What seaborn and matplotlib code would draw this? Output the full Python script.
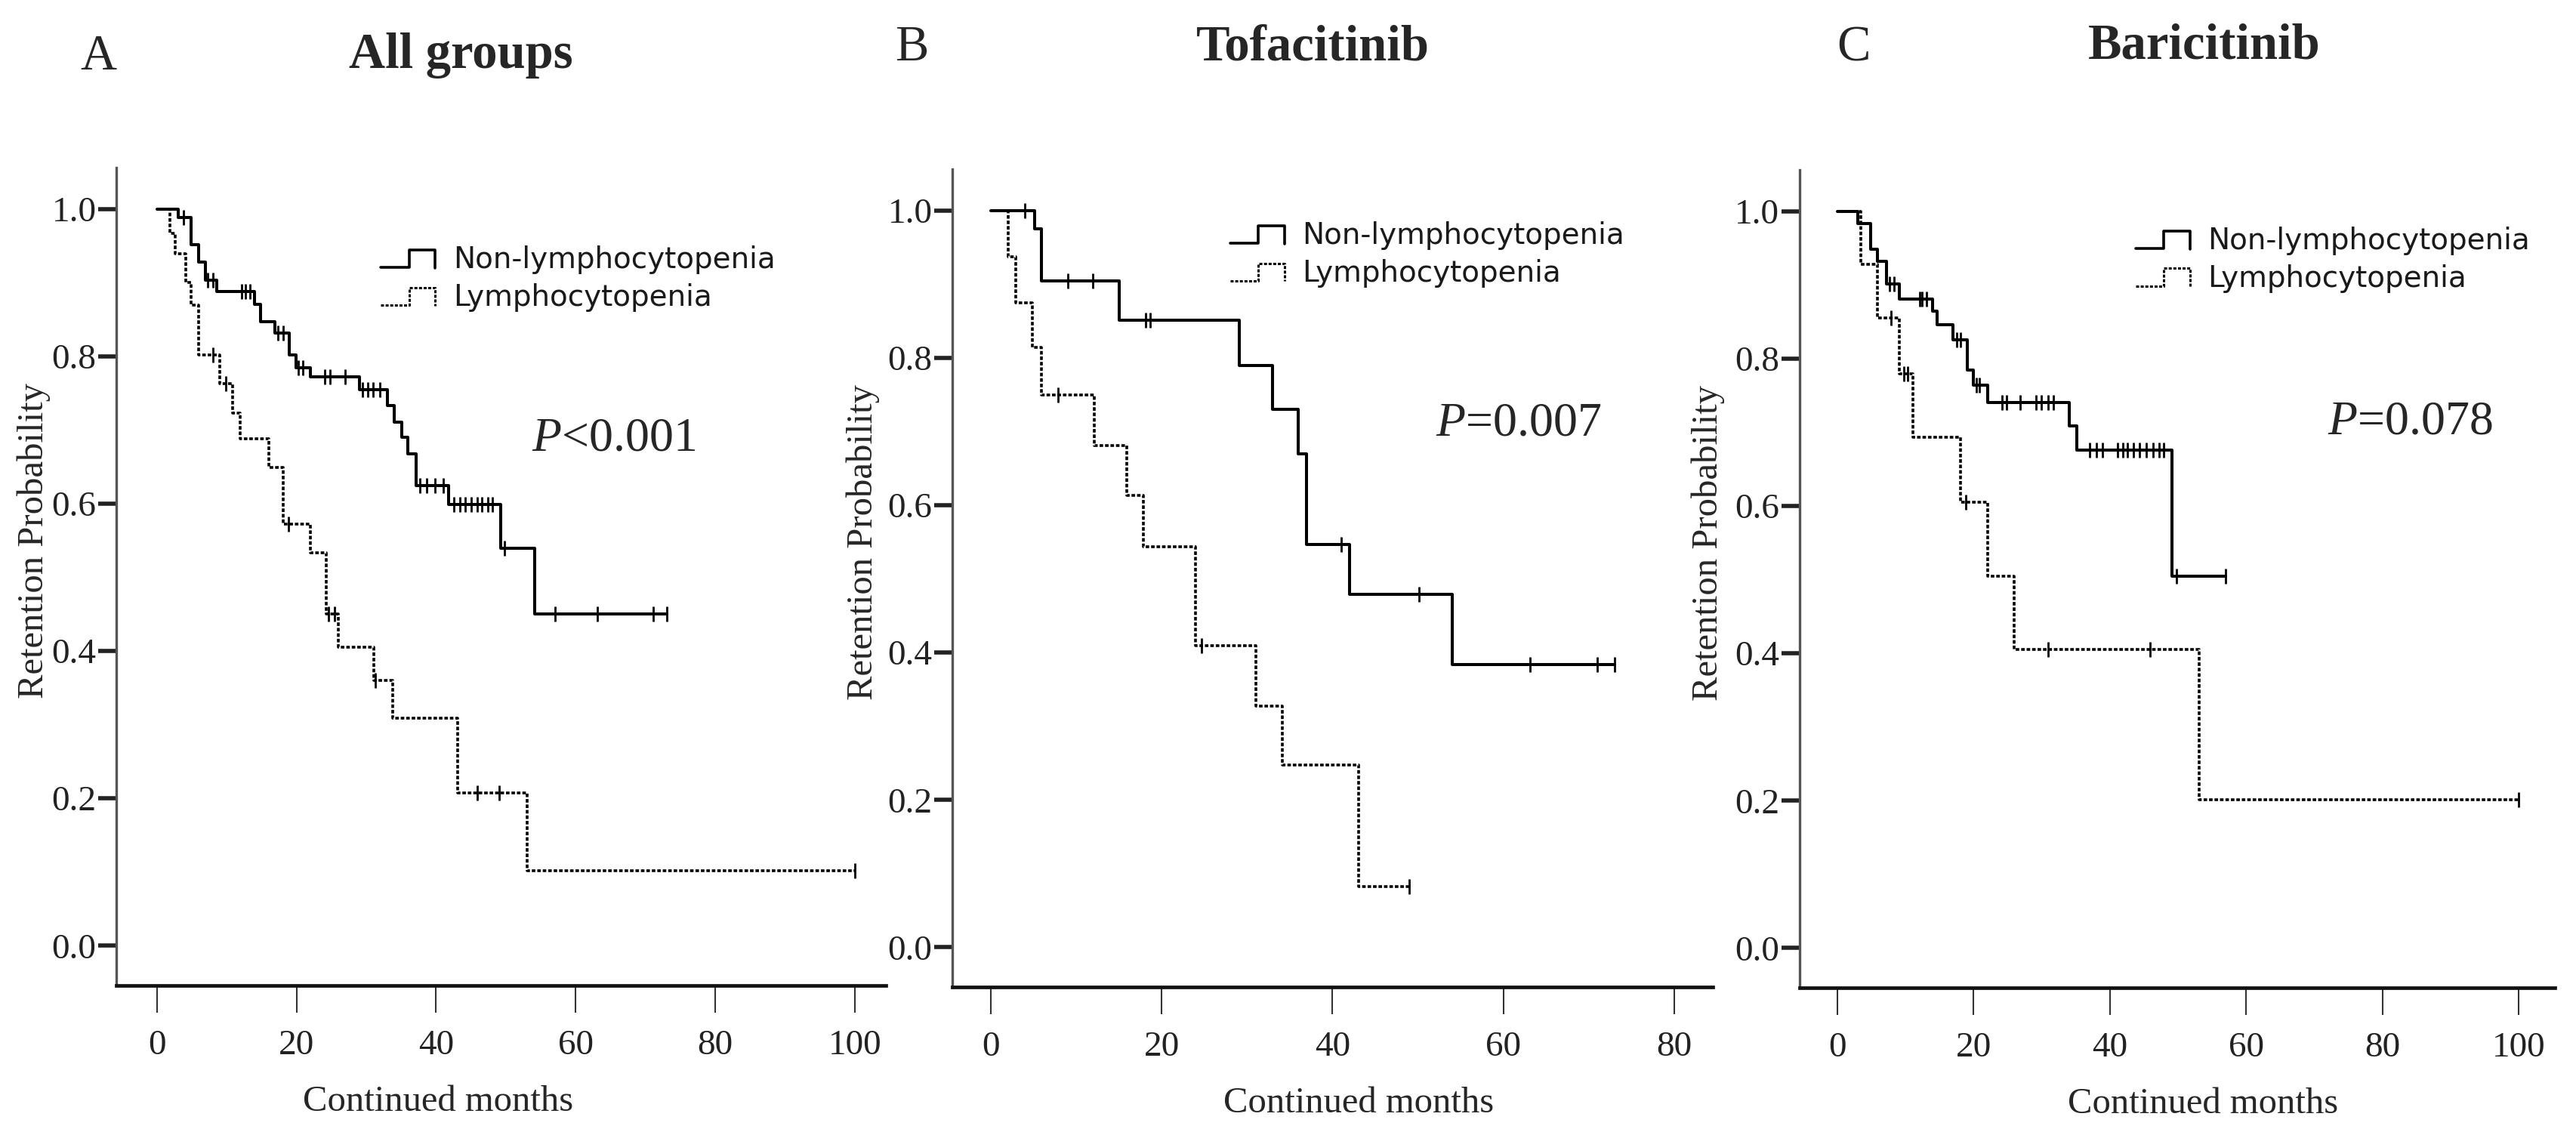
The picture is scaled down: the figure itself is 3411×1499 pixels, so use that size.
import numpy as np
import seaborn as sns
import matplotlib.pyplot as plt
from matplotlib.lines import Line2D
from matplotlib.legend_handler import HandlerBase
from matplotlib.ticker import FormatStrFormatter

# ---- data (months, retention probability) ----
# A: all groups
a_non_t = [3.0, 4.9, 6.0, 6.9, 8.6, 14.0, 14.9, 16.9, 19.0, 19.9, 22.0, 29.0, 33.0,
           34.0, 35.1, 36.0, 37.1, 41.8, 49.3, 54.1]
a_non_s = [0.988, 0.951, 0.928, 0.903, 0.888, 0.871, 0.847, 0.832, 0.802, 0.784, 0.772,
           0.755, 0.733, 0.711, 0.690, 0.668, 0.625, 0.599, 0.539, 0.450]
a_non_c = [3.8, 7.3, 8.0, 12.1, 12.7, 13.3, 17.3, 18.1, 20.3, 20.9, 24.0, 24.8, 27.0,
           29.5, 30.2, 31.0, 31.9, 37.7, 38.7, 39.9, 41.0, 42.5, 43.4, 44.2, 45.0, 45.9,
           46.6, 47.4, 48.1, 49.8, 57.1, 63.1, 71.1, 73.1]
a_lym_t = [1.9, 2.6, 4.1, 4.9, 6.0, 9.0, 10.8, 11.9, 16.0, 18.1, 22.0, 24.3, 26.0,
           31.1, 33.8, 43.1, 53.0]
a_lym_s = [0.967, 0.939, 0.900, 0.869, 0.802, 0.763, 0.723, 0.688, 0.649, 0.572, 0.533,
           0.450, 0.405, 0.360, 0.309, 0.207, 0.102]
a_lym_c = [8.0, 9.9, 18.8, 24.6, 25.4, 31.3, 45.9, 49.0, 100.0]

# B: tofacitinib
b_non_t = [5.1, 5.9, 15.0, 29.1, 33.0, 36.0, 37.0, 42.0, 54.0]
b_non_s = [0.975, 0.904, 0.851, 0.790, 0.730, 0.670, 0.547, 0.479, 0.384]
b_non_c = [4.0, 9.0, 11.9, 18.1, 18.7, 41.0, 50.1, 63.1, 71.0, 73.0]
b_lym_t = [2.0, 2.9, 4.9, 5.9, 12.1, 15.9, 17.9, 24.0, 31.0, 34.1, 43.1]
b_lym_s = [0.937, 0.875, 0.814, 0.750, 0.681, 0.613, 0.544, 0.409, 0.327, 0.247, 0.082]
b_lym_c = [7.9, 24.7, 49.0]

# C: baricitinib
c_non_t = [3.0, 4.9, 5.9, 7.2, 9.1, 14.0, 14.7, 17.0, 19.1, 20.0, 22.1, 34.1, 35.1, 49.1]
c_non_s = [0.983, 0.949, 0.932, 0.901, 0.881, 0.865, 0.846, 0.826, 0.785, 0.764, 0.740,
           0.709, 0.676, 0.505]
c_non_c = [7.7, 8.3, 12.1, 12.5, 13.1, 17.5, 18.1, 20.4, 20.9, 24.2, 24.9, 26.9, 29.2,
           30.0, 30.9, 31.7, 37.0, 38.0, 38.9, 41.1, 41.9, 42.6, 43.5, 44.3, 45.3, 46.3,
           47.2, 47.9, 49.8, 57.0]
c_lym_t = [3.5, 5.9, 9.1, 11.1, 18.1, 22.1, 26.0, 53.1]
c_lym_s = [0.928, 0.855, 0.779, 0.693, 0.605, 0.505, 0.405, 0.201]
c_lym_c = [7.9, 9.8, 10.3, 18.9, 30.9, 45.9, 100.0]

letters = ["A", "B", "C"]
titles = ["All groups", "Tofacitinib", "Baricitinib"]
p_texts = [r"$\mathit{P}$<0.001", r"$\mathit{P}$=0.007", r"$\mathit{P}$=0.078"]
x_ticks = [[0, 20, 40, 60, 80, 100], [0, 20, 40, 60, 80], [0, 20, 40, 60, 80, 100]]
labels = ["Non-lymphocytopenia", "Lymphocytopenia"]

SOLID = "-"
DASHED = (0, (1.3, 0.7))


def km_steps(times, surv, censor):
    times = np.asarray(times)
    surv = np.asarray(surv)
    censor = np.asarray(censor)
    end = max(times.max(), censor.max())
    x = np.r_[0.0, times, end]
    y = np.r_[1.0, surv, surv[-1]]
    cy = np.r_[1.0, surv][np.searchsorted(times, censor, side="right")]
    return x, y, censor, cy


class StepHandle(HandlerBase):
    # SPSS-like step icon in the legend
    def create_artists(self, legend, orig, xd, yd, w, h, fontsize, trans):
        x0, y0 = -xd, -yd
        xs = [x0, x0 + 0.52 * w, x0 + 0.52 * w, x0 + w, x0 + w]
        ys = [y0 + 0.05 * h, y0 + 0.05 * h, y0 + 0.9 * h, y0 + 0.9 * h, y0 + 0.02 * h]
        ln = Line2D(xs, ys)
        ln.update_from(orig)
        ln.set_transform(trans)
        return [ln]


sns.set_style("white")
plt.rcParams["font.family"] = ["Liberation Serif", "DejaVu Serif"]
plt.rcParams["mathtext.fontset"] = "custom"
plt.rcParams["mathtext.rm"] = "Liberation Serif"
plt.rcParams["mathtext.it"] = "Liberation Serif:italic"

fig = plt.figure(figsize=(17.06, 7.495), dpi=200)

panels = [
    dict(non=(a_non_t, a_non_s, a_non_c), lym=(a_lym_t, a_lym_s, a_lym_c),
         rect=[0.0452, 0.1294, 0.2987, 0.7225], xlim=(-5.8, 104.5),
         leg=(32.1, 0.950), p=(53.7, 0.672), ylab=-0.086, xlab=0.418,
         letter=(0.0381, 0.9387), title=(0.179, 0.940)),
    dict(non=(b_non_t, b_non_s, b_non_c), lym=(b_lym_t, b_lym_s, b_lym_c),
         rect=[0.3696, 0.1280, 0.2950, 0.7225], xlim=(-4.5, 84.5),
         leg=(28.0, 0.985), p=(52.1, 0.695), ylab=-0.095, xlab=0.534,
         letter=(0.3538, 0.9466), title=(0.5095, 0.947)),
    dict(non=(c_non_t, c_non_s, c_non_c), lym=(c_lym_t, c_lym_s, c_lym_c),
         rect=[0.6984, 0.1273, 0.2932, 0.7225], xlim=(-5.5, 105.3),
         leg=(43.8, 0.979), p=(71.9, 0.698), ylab=-0.099, xlab=0.534,
         letter=(0.7193, 0.9466), title=(0.8555, 0.9486)),
]

for i, pn in enumerate(panels):
    ax = fig.add_axes(pn["rect"])

    for key, ls, lw in [("non", SOLID, 1.45), ("lym", DASHED, 1.3)]:
        x, y, cx, cy = km_steps(*pn[key])
        sns.lineplot(x=x, y=y, drawstyle="steps-post", estimator=None, sort=False,
                     color="black", linewidth=lw, linestyle=ls, ax=ax)
        sns.scatterplot(x=cx, y=cy, marker="|", s=55, color="black",
                        linewidth=1.0, ax=ax, legend=False, zorder=3)

    ax.set_xlim(*pn["xlim"])
    ax.set_ylim(-0.054, 1.056)
    ax.set_xticks(x_ticks[i])
    ax.set_yticks([0.0, 0.2, 0.4, 0.6, 0.8, 1.0])
    ax.yaxis.set_major_formatter(FormatStrFormatter("%.1f"))

    for s in ["top", "right"]:
        ax.spines[s].set_visible(False)
    ax.spines["left"].set_color("#555555")
    ax.spines["left"].set_linewidth(1.2)
    ax.spines["bottom"].set_color("#111111")
    ax.spines["bottom"].set_linewidth(1.7)

    ax.tick_params(axis="y", direction="out", length=8.6, width=2.0, color="#222222",
                   pad=1, labelsize=17, labelcolor="#222222", left=True)
    ax.tick_params(axis="x", direction="out", length=13, width=0.75, color="#333333",
                   pad=8, labelsize=17, labelcolor="#222222", bottom=True)

    ax.set_ylabel("Retention Probability", fontsize=17.5)
    ax.yaxis.set_label_coords(pn["ylab"], 0.544)
    ax.set_xlabel("Continued months", fontsize=17.5, va="baseline")
    ax.xaxis.set_label_coords(pn["xlab"], -0.153)

    ax.text(pn["p"][0], pn["p"][1], p_texts[i], fontsize=23, ha="left", va="baseline")

    handles = [Line2D([], [], color="black", lw=1.3, ls=SOLID),
               Line2D([], [], color="black", lw=1.1, ls=DASHED)]
    ax.legend(handles, labels, handler_map={Line2D: StepHandle()}, loc="upper left",
              bbox_to_anchor=pn["leg"], bbox_transform=ax.transData, frameon=False,
              borderpad=0, borderaxespad=0, handlelength=1.85, handleheight=0.7,
              handletextpad=0.6, labelspacing=0.3,
              prop={"family": "DejaVu Sans", "size": 14}, labelcolor="#1a1a1a")

    fig.text(pn["letter"][0], pn["letter"][1], letters[i], fontsize=24,
             ha="center", va="baseline")
    fig.text(pn["title"][0], pn["title"][1], titles[i], fontsize=24, fontweight="bold",
             ha="center", va="baseline")

fig.savefig("out.png", dpi=200)
